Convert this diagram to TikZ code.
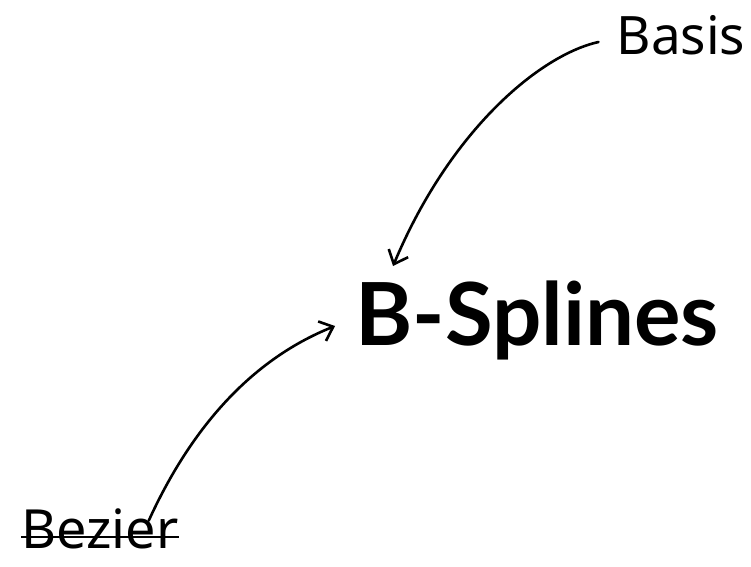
\documentclass[tikz,border=0pt]{standalone}
\usepackage{fontspec}
\usetikzlibrary{arrows.meta}
\setmainfont{Noto Sans}
\newfontfamily\boldhead{Lato}
\tikzset{
  hand/.style={line width=2.6pt, line cap=round, -{Straight Barb[length=12pt,width=21pt,line width=2.6pt]}},
  word/.style={inner sep=0pt, font=\fontsize{53}{60}\selectfont}
}

\begin{document}
\begin{tikzpicture}[x=1pt,y=-1pt]
      \useasboundingbox (0,0) rectangle (751,566);
      \node [word] (basis) at (681,35) {Basis};
      \node [inner sep=0pt, font=\boldhead\bfseries\fontsize{87}{90}\selectfont] (splines) at (537,320) {B-Splines};
      \node [word, font=\fontsize{54}{60}\selectfont] (bezier) at (100,529) {Bezier};
      \draw [line width=2.6pt] ([yshift=-8pt]bezier.west) -- ([yshift=-8pt]bezier.east);
      \draw [hand] ([xshift=-18pt,yshift=-7pt]basis.west) .. controls (540,55) and (450,130) .. ([xshift=38pt,yshift=54pt]splines.west);
      \draw [hand] ([xshift=-30pt,yshift=-12pt]bezier.north east) .. controls (190,430) and (250,360) .. ([xshift=-20pt,yshift=-6pt]splines.west);
    \end{tikzpicture}
\end{document}
